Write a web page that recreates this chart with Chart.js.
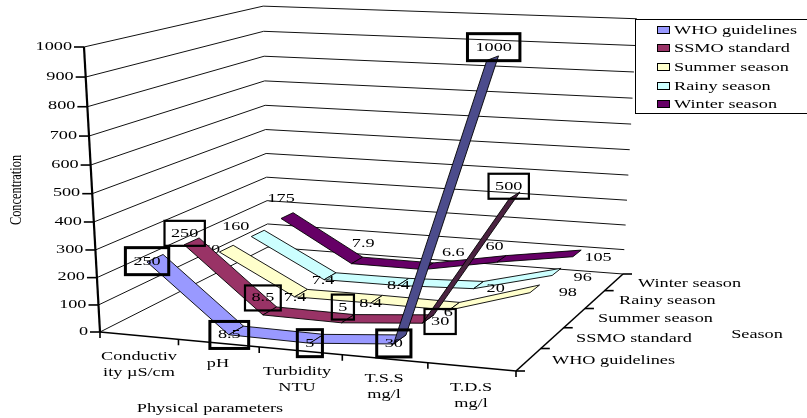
<!DOCTYPE html>
<html><head><meta charset="utf-8">
<style>html,body{margin:0;padding:0;background:#fff}canvas{display:block}</style>
<script src="https://cdn.jsdelivr.net/npm/chart.js@4"></script>
</head><body><canvas id="c" width="807" height="418"></canvas>
<script>
const categories = ["Conductiv\nity µS/cm", "pH", "Turbidity\nNTU", "T.S.S\nmg/l", "T.D.S\nmg/l"];
const seriesNames = ["WHO guidelines", "SSMO standard", "Summer season", "Rainy season", "Winter season"];
const whoValues = [250, 8.5, 5, 30, 1000];
const ssmoValues = [250, 8.5, 5, 30, 500];
const summerValues = [160, 7.4, 8.4, 6, 98];
const rainyValues = [160, 7.4, 8.4, 20, 96];
const winterValues = [175, 7.9, 6.6, 60, 105];
const valueTicks = [0, 100, 200, 300, 400, 500, 600, 700, 800, 900, 1000];
const allValues = [whoValues, ssmoValues, summerValues, rainyValues, winterValues];

// ---- styling / layout, kept apart from the values ----
const fills = ["#9999ff", "#993366", "#ffffcc", "#ccffff", "#660066"];
const steepFills = ["#4c4c8c", "#4a2240", "#ffffcc", "#ccffff", "#660066"];
const labelShift = [
  [[-8, 3], [-7, 4.5], [-7, 4.4], [-6, 4], [1, -11]],
  [[-7, -8], [-7, -13], [-5, -11.6], [12, 2.5], [-6, -9]],
  [[-20, 1], [-6, 4], [-6, 4], [-6, 6], [33, 4]],
  [[-22, -7], [-7, 4], [-5, 4], [17, 3], [26, 6]],
  [[-6, -17], [6, -17], [25, -14], [-7, -12], [21, 4]]
];
const boxStyle = [{lw: 3, pad: 16, h: 27}, {lw: 2.2, pad: 13, h: 25}, null, null, null];
const catTextPos = [[139, 356], [218, 363], [297, 371], [384, 378], [471, 387]];
const seriesTextPos = [[552, 360], [576, 338], [598, 318], [619, 300], [638, 283]];
const FONT = '13.5px "Liberation Serif", "Times New Roman", serif';
const SX = 1.35, RIBBON = 0.0425, TMAX = 1000;

// projection of the 3-D box (u along categories, v along depth, t height) to the page
function project(u, v, value) {
  const t = value / TMAX;
  const w = 1 - 0.07001 * u + 0.19293 * v - 0.057 * t;
  return {
    x: (100 + 379.875 * u + 219.706 * v - 20.79 * t) / w,
    y: (332 + 13.026 * u - 37.346 * v - 287.68 * t) / w
  };
}
const catU = i => (i + 0.5) / categories.length;
const serV = j => (j + 0.5) / seriesNames.length;

const datasets = [];
function addLine(points, color, width) {
  datasets.push({data: points, showLine: true, borderColor: color, borderWidth: width,
    pointRadius: 0, pointHoverRadius: 0, fill: false, tension: 0, label: "", borderCapStyle: "butt"});
}
function shift(p, dx, dy) { return {x: p.x + dx, y: p.y + dy}; }

// walls
valueTicks.forEach(val => {
  addLine([project(0, 0, val), project(0, 1, val), project(1, 1, val)], "#111", 1);
});
// axes and ticks
const A0 = project(0, 0, 0), A1 = project(1, 0, 0), A2 = project(1, 1, 0);
addLine([A0, project(0, 0, TMAX)], "#000", 2.2);
addLine([A0, A1], "#000", 1.6);
addLine([A1, A2], "#000", 1.6);
valueTicks.forEach(val => { const p = project(0, 0, val); addLine([p, shift(p, -10, 0)], "#000", 1.6); });
categories.forEach((_, i) => {
  const p = project(i / categories.length, 0, 0); addLine([p, shift(p, 0, 6)], "#000", 1.6);
});
addLine([A1, shift(A1, 0, 6)], "#000", 1.6);
seriesNames.forEach((_, j) => {
  const p = project(1, j / seriesNames.length, 0); addLine([p, shift(p, 9, 0)], "#000", 1.6);
});
addLine([A2, shift(A2, 9, 0)], "#000", 1.6);

// ribbons, back to front
for (let j = seriesNames.length - 1; j >= 0; j--) {
  const vals = allValues[j], v = serV(j);
  for (let i = 0; i < vals.length - 1; i++) {
    const a = catU(i), b = catU(i + 1);
    const quad = [project(a, v - RIBBON, vals[i]), project(a, v + RIBBON, vals[i]),
                  project(b, v + RIBBON, vals[i + 1]), project(b, v - RIBBON, vals[i + 1])];
    quad.push(quad[0]);
    const steep = vals[i + 1] - vals[i] > 200;
    datasets.push({data: quad, showLine: true, borderColor: "#000", borderWidth: 0.9,
      backgroundColor: steep ? steepFills[j] : fills[j], fill: "shape", tension: 0,
      pointRadius: 0, pointHoverRadius: 0, label: seriesNames[j],
      seriesIndex: i === vals.length - 2 ? j : undefined});
  }
}
datasets.forEach((d, k) => { d.order = -k; });

function text(ctx, s, x, y, align) {
  ctx.save();
  ctx.translate(x, y);
  ctx.scale(SX, 1);
  ctx.font = FONT;
  ctx.fillStyle = "#000";
  ctx.textAlign = align || "center";
  ctx.textBaseline = "middle";
  ctx.fillText(s, 0, 0);
  ctx.restore();
}

const decorations = {
  id: "decorations",
  afterDatasetDraw(chart, args) {
    const j = chart.data.datasets[args.index].seriesIndex;
    if (j === undefined) return;
    const ctx = chart.ctx, vals = allValues[j], st = boxStyle[j];
    vals.forEach((val, i) => {
      const p = project(catU(i), serV(j), val), o = labelShift[j][i];
      const x = p.x + o[0], y = p.y + o[1], s = String(val);
      text(ctx, s, x, y);
      if (st) {
        ctx.save();
        ctx.font = FONT;
        const w = ctx.measureText(s).width * SX + st.pad;
        ctx.lineWidth = st.lw; ctx.strokeStyle = "#000";
        ctx.strokeRect(x - w / 2, y - st.h / 2, w, st.h);
        ctx.restore();
      }
    });
  },
  afterDraw(chart) {
    const ctx = chart.ctx;
    valueTicks.forEach(val => {
      const p = project(0, 0, val);
      text(ctx, String(val), p.x - 12, p.y - 1, "right");
    });
    categories.forEach((c, i) => {
      c.split("\n").forEach((ln, k) => text(ctx, ln, catTextPos[i][0], catTextPos[i][1] + k * 16.5));
    });
    seriesNames.forEach((n, j) => text(ctx, n, seriesTextPos[j][0], seriesTextPos[j][1], "left"));
    text(ctx, "Physical parameters", 210, 408);
    text(ctx, "Season", 757, 334);
    ctx.save();
    ctx.translate(17, 190);
    ctx.scale(SX, 1);
    ctx.rotate(-Math.PI / 2);
    ctx.font = '12.4px "Liberation Serif", serif';
    ctx.fillStyle = "#000"; ctx.textAlign = "center"; ctx.textBaseline = "middle";
    ctx.fillText("Concentration", 0, 0);
    ctx.restore();
    // legend
    ctx.save();
    ctx.fillStyle = "#fff"; ctx.strokeStyle = "#000"; ctx.lineWidth = 1;
    ctx.fillRect(635.5, 19.5, 180, 94);
    ctx.strokeRect(635.5, 19.5, 180, 94);
    const ly = [30, 48, 67, 86, 104];
    seriesNames.forEach((n, j) => {
      ctx.fillStyle = fills[j];
      ctx.fillRect(657.5, ly[j] - 3.5, 12, 7);
      ctx.strokeRect(657.5, ly[j] - 3.5, 12, 7);
      text(ctx, n, 674, ly[j], "left");
    });
    ctx.restore();
  }
};

new Chart(document.getElementById("c"), {
  type: "scatter",
  data: {datasets},
  plugins: [decorations],
  options: {
    responsive: false, animation: false, events: [],
    layout: {padding: 0},
    scales: {
      x: {type: "linear", min: 0, max: 807, display: false},
      y: {type: "linear", min: 0, max: 418, reverse: true, display: false}
    },
    plugins: {legend: {display: false}, tooltip: {enabled: false}, title: {display: false}}
  }
});
</script></body></html>
